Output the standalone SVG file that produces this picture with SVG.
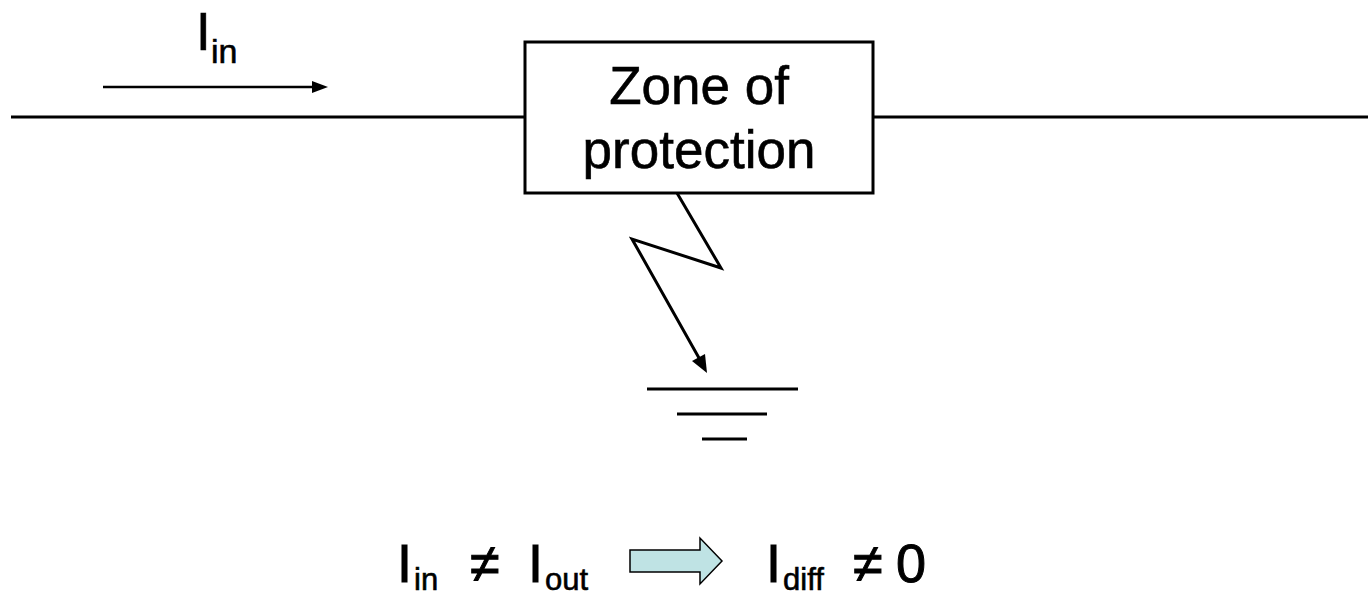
<svg xmlns="http://www.w3.org/2000/svg" width="1368" height="596" viewBox="0 0 1368 596">
  <style>
    .wire { stroke: #000; stroke-width: 3; fill: none; }
    .thin { stroke: #000; stroke-width: 2.5; fill: none; }
    .txt { font-family: "Liberation Sans", Arial, sans-serif; fill: #000; stroke: #000; stroke-width: 0.6; }
    .big { font-size: 53px; }
    .sub { font-size: 34px; }
    .eq { font-size: 54px; stroke-width: 1; }
    .eqsub { font-size: 31px; }
  </style>
  <rect width="1368" height="596" fill="#fff"/>

  <g id="connectors">
    <!-- feeder line on both sides of the protected zone -->
    <line class="wire" x1="11" y1="117" x2="525" y2="117"/>
    <line class="wire" x1="873" y1="117" x2="1368" y2="117"/>
    <!-- incoming current direction -->
    <line class="thin" x1="103" y1="87" x2="314" y2="87"/>
    <polygon points="328,87 312,81 312,93" fill="#000"/>
    <!-- fault path to earth -->
    <polyline class="wire" points="677,193 721,268 632,239 699,358" stroke-linejoin="miter"/>
    <polygon points="707,373 692,361 705,354" fill="#000"/>
  </g>

  <g id="zone">
    <rect x="525" y="42" width="348" height="151" fill="#fff" stroke="#000" stroke-width="3"/>
    <text class="txt big" x="699" y="104" text-anchor="middle">Zone of</text>
    <text class="txt big" x="699" y="168" text-anchor="middle">protection</text>
  </g>

  <g id="ground">
    <line class="wire" x1="647" y1="389" x2="798" y2="389"/>
    <line class="wire" x1="677" y1="414" x2="767" y2="414"/>
    <line class="wire" x1="702" y1="439" x2="747" y2="439"/>
  </g>

  <g id="label-in">
    <text class="txt big" x="196" y="50">I</text>
    <text class="txt sub" x="211" y="63">in</text>
  </g>

  <g id="equation">
    <text class="txt eq" x="397" y="582">I</text>
    <text class="txt eqsub" x="414" y="590">in</text>
    <text class="txt eq" x="470" y="582">≠</text>
    <text class="txt eq" x="528" y="582">I</text>
    <text class="txt eqsub" x="545" y="590">out</text>
    <polygon points="630,550 700,550 700,538 722,561 700,584 700,572 630,572" fill="#bfe3e4" stroke="#000" stroke-width="1.5"/>
    <text class="txt eq" x="766" y="582">I</text>
    <text class="txt eqsub" x="783" y="590">diff</text>
    <text class="txt eq" x="853" y="582">≠</text>
    <text class="txt eq" x="896" y="582">0</text>
  </g>
</svg>
